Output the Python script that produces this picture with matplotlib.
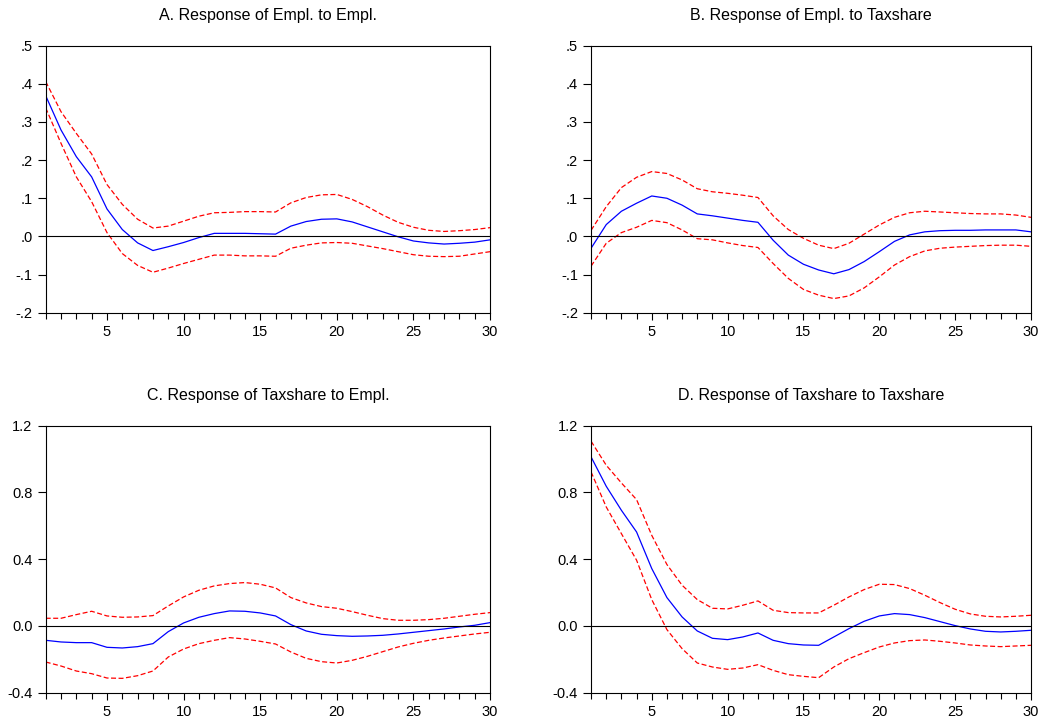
import matplotlib
matplotlib.use('Agg')
import matplotlib.pyplot as plt
from matplotlib.ticker import MultipleLocator, FuncFormatter

plt.rcParams['font.family'] = ['Liberation Sans', 'DejaVu Sans']

periods = list(range(1, 31))

# A. Response of Empl. to Empl.
a_resp = [0.369, 0.279, 0.209, 0.156, 0.072, 0.018, -0.017, -0.037, -0.027, -0.016,
          -0.003, 0.008, 0.008, 0.008, 0.007, 0.006, 0.027, 0.039, 0.045, 0.046,
          0.038, 0.025, 0.012, -0.001, -0.012, -0.017, -0.020, -0.018, -0.015, -0.009]
a_upper = [0.406, 0.327, 0.270, 0.216, 0.136, 0.084, 0.045, 0.022, 0.027, 0.040,
           0.053, 0.062, 0.063, 0.065, 0.065, 0.064, 0.088, 0.102, 0.109, 0.110,
           0.097, 0.078, 0.056, 0.037, 0.024, 0.016, 0.013, 0.015, 0.018, 0.023]
a_lower = [0.337, 0.244, 0.156, 0.091, 0.010, -0.045, -0.076, -0.094, -0.083, -0.071,
           -0.060, -0.049, -0.049, -0.051, -0.051, -0.052, -0.031, -0.023, -0.017, -0.016,
           -0.018, -0.025, -0.032, -0.040, -0.048, -0.052, -0.053, -0.052, -0.046, -0.040]

# B. Response of Empl. to Taxshare
b_resp = [-0.031, 0.031, 0.066, 0.087, 0.106, 0.100, 0.082, 0.059, 0.054, 0.048,
          0.042, 0.037, -0.010, -0.049, -0.073, -0.088, -0.098, -0.087, -0.066, -0.040,
          -0.013, 0.004, 0.012, 0.015, 0.016, 0.016, 0.017, 0.017, 0.017, 0.012]
b_upper = [0.016, 0.078, 0.128, 0.155, 0.170, 0.165, 0.148, 0.125, 0.117, 0.113,
           0.108, 0.102, 0.054, 0.018, -0.005, -0.023, -0.032, -0.018, 0.006, 0.030,
           0.050, 0.062, 0.066, 0.064, 0.062, 0.060, 0.059, 0.059, 0.056, 0.050]
b_lower = [-0.078, -0.018, 0.010, 0.024, 0.042, 0.036, 0.017, -0.006, -0.009, -0.017,
           -0.024, -0.029, -0.071, -0.110, -0.139, -0.154, -0.163, -0.156, -0.135, -0.106,
           -0.075, -0.053, -0.038, -0.031, -0.028, -0.026, -0.024, -0.023, -0.023, -0.026]

# C. Response of Taxshare to Empl.
c_resp = [-0.086, -0.096, -0.100, -0.100, -0.128, -0.132, -0.124, -0.106, -0.034, 0.018,
          0.052, 0.074, 0.090, 0.088, 0.078, 0.060, 0.008, -0.030, -0.050, -0.058,
          -0.062, -0.060, -0.056, -0.048, -0.038, -0.028, -0.018, -0.006, 0.004, 0.020]
c_upper = [0.046, 0.046, 0.068, 0.088, 0.060, 0.052, 0.054, 0.062, 0.120, 0.174,
           0.214, 0.240, 0.254, 0.260, 0.250, 0.228, 0.170, 0.138, 0.116, 0.106,
           0.086, 0.064, 0.044, 0.034, 0.034, 0.038, 0.046, 0.058, 0.070, 0.080]
c_lower = [-0.216, -0.240, -0.270, -0.286, -0.312, -0.314, -0.298, -0.270, -0.186, -0.138,
           -0.106, -0.086, -0.070, -0.078, -0.092, -0.108, -0.156, -0.194, -0.214, -0.222,
           -0.206, -0.182, -0.154, -0.126, -0.104, -0.086, -0.072, -0.060, -0.048, -0.038]

# D. Response of Taxshare to Taxshare
d_resp = [1.013, 0.837, 0.693, 0.563, 0.344, 0.170, 0.054, -0.030, -0.074, -0.082,
          -0.066, -0.042, -0.086, -0.106, -0.114, -0.116, -0.066, -0.016, 0.028, 0.060,
          0.074, 0.068, 0.050, 0.026, 0.002, -0.018, -0.032, -0.036, -0.032, -0.026]
d_upper = [1.107, 0.963, 0.857, 0.757, 0.543, 0.368, 0.244, 0.158, 0.106, 0.102,
           0.124, 0.150, 0.094, 0.080, 0.078, 0.078, 0.124, 0.174, 0.218, 0.250,
           0.248, 0.224, 0.184, 0.140, 0.100, 0.072, 0.058, 0.054, 0.058, 0.064]
d_lower = [0.923, 0.713, 0.553, 0.394, 0.158, -0.022, -0.136, -0.222, -0.246, -0.260,
           -0.252, -0.232, -0.266, -0.292, -0.302, -0.310, -0.246, -0.196, -0.160, -0.126,
           -0.102, -0.088, -0.084, -0.092, -0.102, -0.114, -0.120, -0.124, -0.120, -0.116]

titles = ['A. Response of Empl. to Empl.', 'B. Response of Empl. to Taxshare',
          'C. Response of Taxshare to Empl.', 'D. Response of Taxshare to Taxshare']
series = [(a_resp, a_upper, a_lower), (b_resp, b_upper, b_lower),
          (c_resp, c_upper, c_lower), (d_resp, d_upper, d_lower)]

# posiciones de los ejes en fracciones de la figura
boxes = [(0.0436, 0.5675, 0.424, 0.3693), (0.564, 0.5675, 0.4198, 0.3693),
         (0.0436, 0.0419, 0.424, 0.3693), (0.564, 0.0419, 0.4198, 0.3693)]


def dot_fmt(x, pos):
    # estilo EViews: .5, -.2
    s = f'{x:.1f}'
    return s.replace('0.', '.')


fig = plt.figure(figsize=(10.48, 7.23), dpi=100)

for i, (title, (resp, up, lo), box) in enumerate(zip(titles, series, boxes)):
    ax = fig.add_axes(box)
    ax.plot(periods, resp, color='blue', linewidth=0.9)
    ax.plot(periods, up, color='red', linewidth=0.9, linestyle=(0, (4, 2)))
    ax.plot(periods, lo, color='red', linewidth=0.9, linestyle=(0, (4, 2)))
    ax.axhline(0, color='black', linewidth=0.8)

    ax.set_xlim(1, 30)
    ax.xaxis.set_major_locator(MultipleLocator(5))
    ax.xaxis.set_minor_locator(MultipleLocator(1))
    if i < 2:
        ax.set_ylim(-0.2, 0.5)
        ax.yaxis.set_major_locator(MultipleLocator(0.1))
        ax.yaxis.set_major_formatter(FuncFormatter(dot_fmt))
    else:
        ax.set_ylim(-0.4, 1.2)
        ax.yaxis.set_major_locator(MultipleLocator(0.4))
        ax.yaxis.set_major_formatter(FuncFormatter(lambda x, pos: f'{x:.1f}'))

    ax.tick_params(axis='both', which='both', direction='out', labelsize=10.5,
                   width=0.8, color='black')
    ax.tick_params(axis='x', which='major', length=5)
    ax.tick_params(axis='x', which='minor', length=4)
    ax.tick_params(axis='y', which='major', length=6)
    for sp in ax.spines.values():
        sp.set_linewidth(0.8)

    ax.text(0.5, 1.085, title, transform=ax.transAxes, ha='center', va='bottom',
            fontsize=11.5)

fig.savefig('out.png', dpi=100)
